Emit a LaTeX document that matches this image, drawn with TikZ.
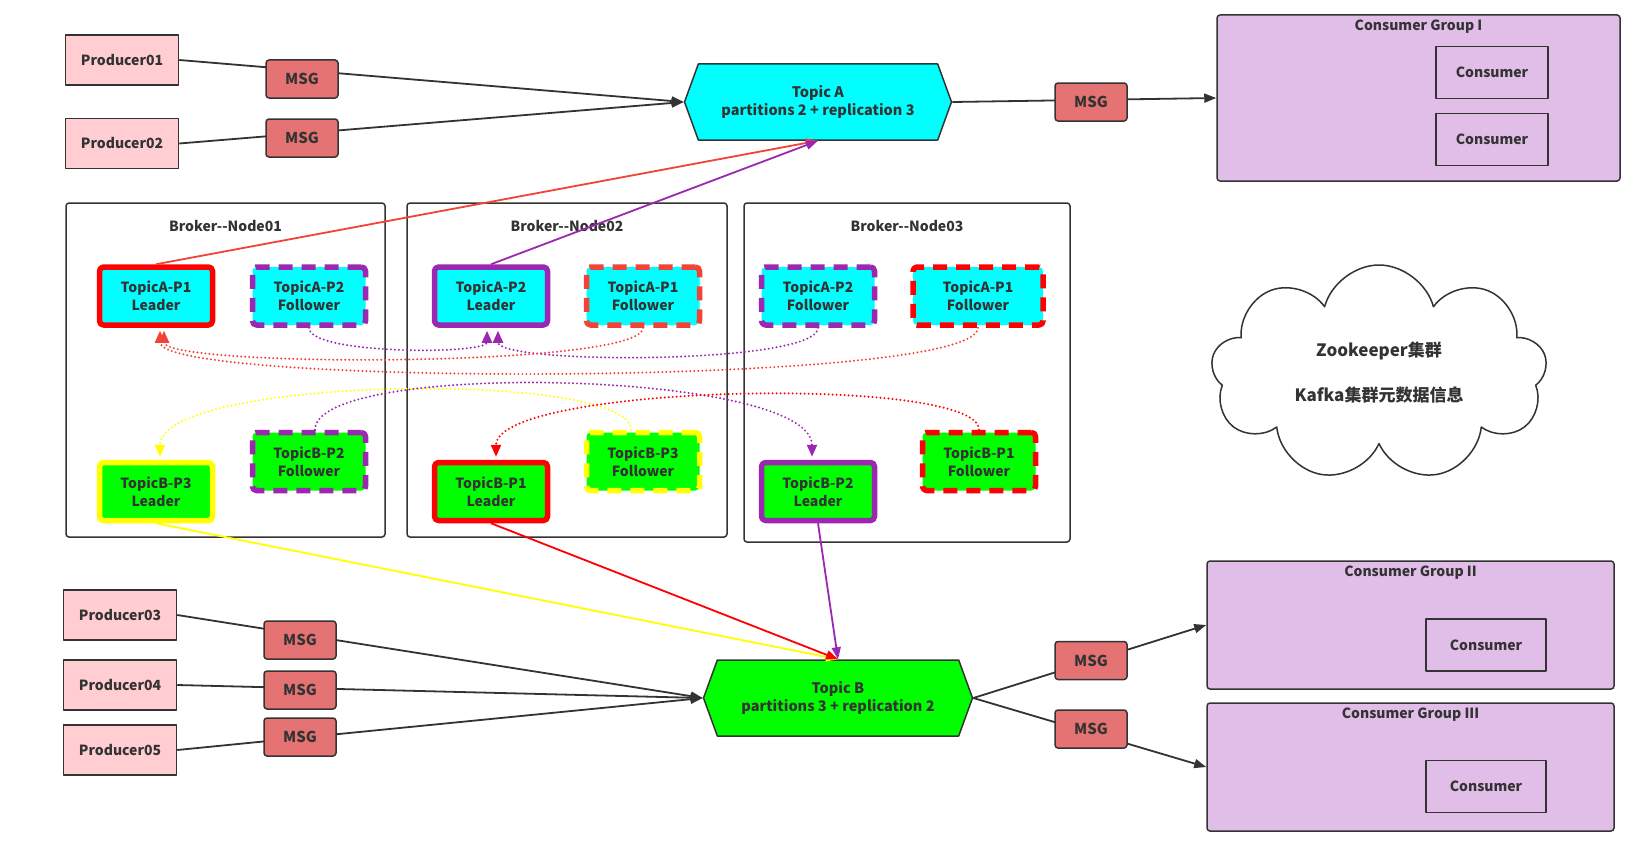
\documentclass[tikz,border=0pt]{standalone}
\usepackage{fontspec}
\setmainfont{Noto Sans CJK SC}
\usetikzlibrary{shapes.symbols,arrows.meta}
\definecolor{ink}{HTML}{333333}
\definecolor{topicAc}{HTML}{00FFFF}
\definecolor{topicBc}{HTML}{00FF00}
\definecolor{redL}{HTML}{FF0000}
\definecolor{redF}{HTML}{F44336}
\definecolor{purp}{HTML}{9C27B0}
\definecolor{yel}{HTML}{FFFF00}
\definecolor{prodpink}{HTML}{FFCDD2}
\definecolor{msgred}{HTML}{E57373}
\definecolor{grppink}{HTML}{E1BEE7}
\begin{document}
\begin{tikzpicture}[x=1pt,y=-1pt,line join=round,>={Triangle[length=12pt,width=9pt]},font=\bfseries\fontsize{14}{18}\selectfont,text=ink]
	\tikzset{
		prodbox/.style={draw=ink,fill=prodpink,line width=1.5,minimum width=113,minimum height=50},
		msgbox/.style={draw=ink,fill=msgred,line width=1.5,rounded corners=3,minimum width=72,minimum height=38,font=\bfseries\fontsize{15}{18}\selectfont},
		topic/.style={shape=signal,signal to=west and east,signal pointer angle=140,draw=ink,line width=1.5,minimum width=267,minimum height=76,align=center,font=\bfseries\fontsize{14.5}{18}\selectfont},
		broker/.style={draw=ink,line width=1.5,rounded corners=3},
		part/.style={line width=5.5,rounded corners=4,minimum width=113,minimum height=58,align=center},
		leader/.style={part,draw=#1},
		follower/.style={part,draw=#1,dash pattern=on 14pt off 9pt},
		group/.style={draw=ink,fill=grppink,line width=1.5,rounded corners=3},
		consbox/.style={draw=ink,line width=1.5,minimum height=52},
		link/.style={draw=ink,line width=1.8,->},
		lead/.style={line width=1.8,->},
		repl/.style={line width=2.2,dash pattern=on 0pt off 4pt,line cap=round,shorten >=3pt,-{Triangle[length=12pt,width=10pt]}}
	}
	\path[use as bounding box,fill=white] (0,0) rectangle (1648,851);
	% brokers
	\foreach \n/\x/\y/\w/\h/\t in {node01/225.5/370/319/334/Node01,node02/567/370/320/334/Node02,node03/907/372.5/326/339/Node03}{
		\node[broker,minimum width=\w,minimum height=\h] (\n) at (\x,\y) {};
		\node (\n-t) at ([yshift=-24]\n.north) {Broker-{}-\t};
	}
	% partitions
	\node[leader=redL,fill=topicAc] (a11) at (156,296) {TopicA-P1\\Leader};
	\node[follower=purp,fill=topicAc] (a12) at (309,296) {TopicA-P2\\Follower};
	\node[leader=purp,fill=topicAc] (a21) at (491,296) {TopicA-P2\\Leader};
	\node[follower=redF,fill=topicAc] (a22) at (643,296) {TopicA-P1\\Follower};
	\node[follower=purp,fill=topicAc] (a31) at (818,296) {TopicA-P2\\Follower};
	\node[follower=redL,fill=topicAc,minimum width=130] (a32) at (978,296) {TopicA-P1\\Follower};
	\node[leader=yel,fill=topicBc] (b11) at (156,491.5) {TopicB-P3\\Leader};
	\node[follower=purp,fill=topicBc] (b12) at (309,461.5) {TopicB-P2\\Follower};
	\node[leader=redL,fill=topicBc] (b21) at (491,491.5) {TopicB-P1\\Leader};
	\node[follower=yel,fill=topicBc] (b22) at (643,461.5) {TopicB-P3\\Follower};
	\node[leader=purp,fill=topicBc] (b31) at (818,491.5) {TopicB-P2\\Leader};
	\node[follower=redL,fill=topicBc] (b32) at (979,461.5) {TopicB-P1\\Follower};
	% zookeeper
	\node[cloud,cloud puffs=9,aspect=1.6,draw=ink,line width=1.5,minimum width=336,minimum height=216,align=center,font=\bfseries\fontsize{17}{20}\selectfont] (zk) at (1379,373) {Zookeeper集群\\[25pt]Kafka集群元数据信息};
	% producers, topics, groups
	\foreach \n/\x/\y/\t in {prod1/122/60/Producer01,prod2/122/143.5/Producer02,prod3/120/615/Producer03,prod4/120/685/Producer04,prod5/120/750/Producer05}
		\node[prodbox] (\n) at (\x,\y) {\t};
	\node[topic,fill=topicAc] (topicA) at (818,102) {Topic A\\partitions 2 + replication 3};
	\node[topic,fill=topicBc,minimum width=269] (topicB) at (838,698) {Topic B\\partitions 3 + replication 2};
	\foreach \n/\x/\y/\w/\h/\t in {grp1/1418.5/98/403/166/I,grp2/1410.5/625/407/128/II,grp3/1410.5/767/407/128/III}{
		\node[group,minimum width=\w,minimum height=\h] (\n) at (\x,\y) {};
		\node (\n-t) at ([yshift=-12]\n.north) {Consumer Group \t};
	}
	\node[consbox,minimum width=112] (c11) at (1492,72.5) {Consumer};
	\node[consbox,minimum width=112] (c12) at (1492,139.5) {Consumer};
	\node[consbox,minimum width=120] (c21) at (1486,645) {Consumer};
	\node[consbox,minimum width=120] (c31) at (1486,786.5) {Consumer};
	% message flow
	\foreach \p in {prod1,prod2} \draw[link] (\p.east) -- (topicA.west);
	\foreach \p in {prod3,prod4,prod5} \draw[link] (\p.east) -- (topicB.west);
	\draw[link] (topicA.east) -- (grp1.west);
	\draw[link] (topicB.east) -- (grp2.west);
	\draw[link] (topicB.east) -- (grp3.west);
	\foreach \n/\x/\y in {msgA1/302/79,msgA2/302/138,msgA3/1091/102,msgB1/300/640,msgB2/300/690,msgB3/300/737,msgC1/1091/660.5,msgC2/1091/729}
		\node[msgbox] (\n) at (\x,\y) {MSG};
	% leaders to topics
	\draw[lead,redF] (a11.north) -- (topicA.south);
	\draw[lead,purp] (a21.north) -- (topicA.south);
	\draw[lead,yel] (b11.south) -- (topicB.north);
	\draw[lead,redL] (b21.south) -- (topicB.north);
	\draw[lead,purp] (b31.south) -- (topicB.north);
	% replication
	\draw[repl,purp] (a12.south) .. controls +(0,27) and +(0,27) .. ([xshift=-4]a21.south);
	\draw[repl,purp] (a31.south) .. controls +(0,37) and +(0,37) .. ([xshift=7]a21.south);
	\draw[repl,redF] (a22.south) .. controls +(0,40) and +(0,40) .. ([xshift=8]a11.south);
	\draw[repl,redF] (a32.south) .. controls +(0,59) and +(0,59) .. ([xshift=4]a11.south);
	\draw[repl,yel] ([xshift=-12]b22.north) .. controls +(0,-60) and +(0,-84) .. ([xshift=4]b11.north);
	\draw[repl,purp] ([xshift=6]b12.north) .. controls +(0,-70) and +(0,-90) .. ([xshift=-6]b31.north);
	\draw[repl,redL] (b32.north) .. controls +(0,-55) and +(0,-76) .. ([xshift=5]b21.north);
\end{tikzpicture}
\end{document}
